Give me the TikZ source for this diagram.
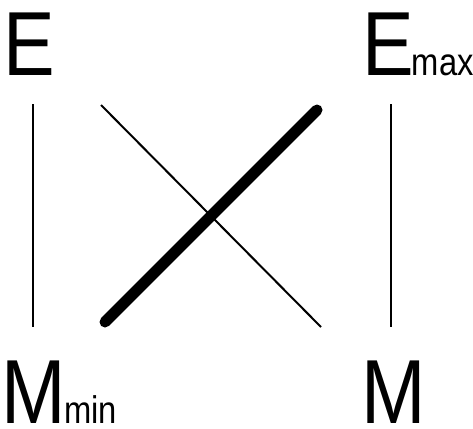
\documentclass[tikz,border=0pt]{standalone}
\usepackage{fontspec}
\setmainfont{Liberation Sans}
\begin{document}
\begin{tikzpicture}[x=1pt,y=1pt,
  lbl/.style={inner sep=0pt,outer sep=0pt,anchor=base west},
  thinline/.style={line width=2pt},
  thickline/.style={line width=11pt,line cap=round}]
\useasboundingbox (0,0) rectangle (473,-428);
\newcommand{\bigtxt}[2]{\scalebox{0.85}[1]{\fontsize{91}{91}\selectfont #1\kern-2pt{\fontsize{38.5}{38.5}\selectfont #2}}}
\node[lbl] (E) at (4,-75) {\bigtxt{E}{}};
\node[lbl] (Emax) at (362,-75) {\bigtxt{E}{max}};
\node[lbl] (Mmin) at (1.3,-423) {\bigtxt{M}{min}};
\node[lbl] (M) at (361,-423) {\bigtxt{M}{}};
\coordinate (l1) at (33,-104);
\coordinate (l2) at (33,-327);
\coordinate (r1) at (391,-104);
\coordinate (r2) at (391,-327);
\coordinate (t1) at (101,-105);
\coordinate (t2) at (321,-327);
\coordinate (k1) at (105,-322);
\coordinate (k2) at (317,-110);
\draw[thinline] (l1) -- (l2);
\draw[thinline] (r1) -- (r2);
\draw[thinline] (t1) -- (t2);
\draw[thickline] (k1) -- (k2);
\end{tikzpicture}
\end{document}
